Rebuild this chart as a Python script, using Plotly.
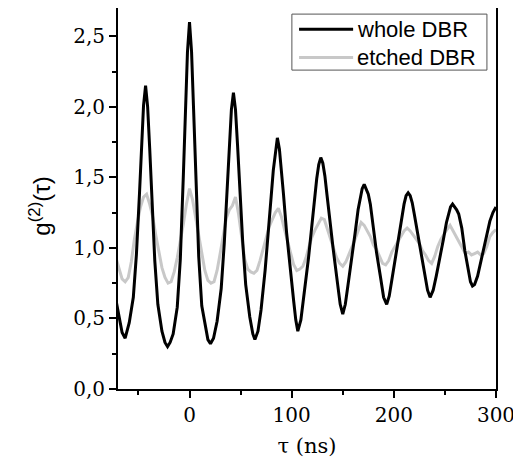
import plotly.graph_objects as go

# whole DBR (black)
tau_whole = [-72, -69, -66, -63, -59, -55, -52, -49, -47, -45, -43, -41, -39, -37, -34, -31, -27, -24, -21.5,
             -19, -16, -12, -9, -6, -4, -2, 0, 2, 4, 6, 9, 12, 16, 18, 20.5,
             23.5, 27, 31, 34, 37, 39, 41, 43, 45, 47, 49, 52, 55, 59, 62, 64,
             67, 70, 74, 77, 80, 82, 84, 86, 88, 90, 92, 95, 98, 102, 104, 106,
             109, 112.5, 116.5, 119.5, 122.5, 124.5, 126.5, 128.5, 130.5, 132.5, 134.5, 137.5, 140.5, 144.5, 147.5, 150,
             152.5, 155, 159, 162, 165, 167, 169, 171, 173, 175, 177, 180, 183, 187, 190, 193,
             195.5, 198, 202, 205, 208, 210, 212, 214, 216, 218, 220, 223, 226, 230, 233, 235.5,
             238.5, 241.5, 245.5, 248.5, 251.5, 253.5, 255.5, 257.5, 259.5, 261.5, 263.5, 266.5, 269.5, 272.5, 275, 277,
             279, 282, 285, 288, 291, 294, 297, 300]
g2_whole = [0.63, 0.50, 0.40, 0.36, 0.47, 0.65, 0.95, 1.38, 1.72, 2.01, 2.15, 2.00, 1.71, 1.35, 0.91, 0.60, 0.41, 0.33, 0.30,
            0.33, 0.39, 0.58, 0.92, 1.52, 1.98, 2.39, 2.60, 2.39, 1.98, 1.53, 0.94, 0.59, 0.41, 0.35, 0.32,
            0.36, 0.48, 0.71, 1.03, 1.42, 1.73, 1.98, 2.10, 1.98, 1.73, 1.44, 1.05, 0.74, 0.51, 0.39, 0.35,
            0.41, 0.56, 0.84, 1.08, 1.37, 1.55, 1.69, 1.78, 1.70, 1.56, 1.38, 1.11, 0.88, 0.62, 0.49, 0.41,
            0.49, 0.68, 0.93, 1.14, 1.36, 1.49, 1.59, 1.64, 1.60, 1.51, 1.38, 1.18, 1.00, 0.77, 0.60, 0.53,
            0.60, 0.73, 0.93, 1.10, 1.27, 1.36, 1.42, 1.45, 1.41, 1.38, 1.31, 1.13, 0.97, 0.79, 0.65, 0.60,
            0.66, 0.77, 0.95, 1.09, 1.23, 1.31, 1.37, 1.39, 1.37, 1.32, 1.24, 1.11, 0.98, 0.81, 0.70, 0.65,
            0.70, 0.80, 0.94, 1.06, 1.18, 1.24, 1.29, 1.31, 1.29, 1.27, 1.24, 1.14, 0.98, 0.85, 0.76, 0.73,
            0.74, 0.80, 0.90, 1.01, 1.11, 1.19, 1.25, 1.29]

# etched DBR (grey)
tau_etched = [-72, -69, -66, -63, -60, -57, -54, -51, -48, -45, -42, -39, -36, -33, -30, -27, -24, -21, -18, -15,
              -12, -9, -6, -3, 0, 3, 6, 9, 12, 15, 18, 21, 24, 27, 30, 33, 36, 39, 42, 45,
              48, 51, 54, 57, 60, 63, 66, 69, 72, 75, 78, 81, 84, 87, 90, 93, 96, 99, 102, 105,
              108, 111, 114, 117, 120, 123, 126, 129, 132, 135, 138, 141, 144, 147, 150, 153, 156, 159, 162, 165,
              168, 171, 174, 177, 180, 183, 186, 189, 192, 195, 198, 201, 204, 207, 210, 213, 216, 219, 222, 225,
              228, 231, 234, 237, 240, 243, 246, 249, 252, 255, 258, 261, 264, 267, 270, 273, 276, 279, 282, 285,
              288, 291, 294, 297, 300]
g2_etched = [0.93, 0.86, 0.78, 0.76, 0.79, 0.90, 1.06, 1.18, 1.29, 1.36, 1.38, 1.31, 1.22, 1.09, 0.96, 0.86, 0.79, 0.75, 0.76, 0.83,
             0.93, 1.04, 1.17, 1.31, 1.42, 1.34, 1.22, 1.08, 0.95, 0.84, 0.77, 0.75, 0.76, 0.84, 0.96, 1.10, 1.21, 1.27, 1.30, 1.36,
             1.24, 1.08, 0.92, 0.85, 0.83, 0.82, 0.84, 0.91, 0.99, 1.08, 1.15, 1.20, 1.25, 1.28, 1.22, 1.13, 1.04, 0.95, 0.88, 0.84,
             0.85, 0.87, 0.93, 1.01, 1.08, 1.13, 1.17, 1.21, 1.20, 1.13, 1.06, 0.99, 0.93, 0.89, 0.87, 0.90, 0.95, 1.01, 1.06, 1.12,
             1.18, 1.16, 1.12, 1.08, 1.02, 0.99, 0.94, 0.89, 0.88, 0.91, 0.97, 1.01, 1.05, 1.09, 1.12, 1.14, 1.12, 1.09, 1.06, 1.03,
             0.98, 0.95, 0.91, 0.89, 0.94, 1.01, 1.06, 1.10, 1.13, 1.16, 1.12, 1.08, 1.03, 0.99, 0.96, 0.97, 0.95, 0.96, 0.97, 0.95,
             0.96, 1.01, 1.08, 1.11, 1.13]

legend_names = ["whole DBR", "etched DBR"]
colors = ["#000000", "#c8c8c8"]

SERIF = "DejaVu Serif"
SANS = "Liberation Sans"

fig = go.Figure()
fig.add_trace(go.Scatter(x=tau_etched, y=g2_etched, mode="lines", name=legend_names[1],
                         line=dict(color=colors[1], width=3), showlegend=False))
fig.add_trace(go.Scatter(x=tau_whole, y=g2_whole, mode="lines", name=legend_names[0],
                         line=dict(color=colors[0], width=3), showlegend=False))

# legend drawn manually
fig.add_shape(type="rect", xref="paper", yref="paper", x0=0.460, x1=0.976, y0=0.837, y1=0.984,
              line=dict(color="#555555", width=1), fillcolor="white", layer="above")
for i, yy in enumerate([0.944, 0.870]):
    fig.add_shape(type="line", xref="paper", yref="paper", x0=0.479, x1=0.622, y0=yy, y1=yy,
                  line=dict(color=colors[i], width=3), layer="above")
    fig.add_annotation(xref="paper", yref="paper", x=0.628, y=yy, text=legend_names[i],
                       showarrow=False, xanchor="left", yanchor="middle",
                       font=dict(family=SANS, size=22, color="black"))

# y-axis title
fig.add_annotation(xref="paper", yref="paper", x=-0.205, y=0.48, text="g<sup>(2)</sup>(τ)",
                   showarrow=False, textangle=-90, xanchor="center", yanchor="middle",
                   font=dict(family=SANS, size=24, color="black"))

axis_common = dict(showline=True, linecolor="black", linewidth=2, mirror=True, ticks="outside",
                   tickcolor="black", tickwidth=2, ticklen=7, showgrid=False, zeroline=False,
                   ticklabeloverflow="allow",
                   tickfont=dict(family=SERIF, size=20, color="black"))

fig.update_xaxes(range=[-70, 300], tickmode="linear", tick0=0, dtick=100,
                 minor=dict(dtick=50, tick0=0, ticks="outside", ticklen=4, tickcolor="black", tickwidth=2),
                 title=dict(text="τ (ns)", font=dict(family=SERIF, size=21, color="black"), standoff=12),
                 **axis_common)
fig.update_yaxes(range=[0, 2.7], tickmode="linear", tick0=0, dtick=0.5, tickformat=".1f",
                 minor=dict(dtick=0.25, tick0=0, ticks="outside", ticklen=4, tickcolor="black", tickwidth=2),
                 **axis_common)

# page body has an 8px margin, so the figure is shifted by 8px; compensate
fig.update_layout(width=513, height=458, margin=dict(l=110, r=25, t=0, b=77, autoexpand=False),
                  plot_bgcolor="white", paper_bgcolor="white", separators=",.",
                  showlegend=False)

fig.write_html("out.html")
